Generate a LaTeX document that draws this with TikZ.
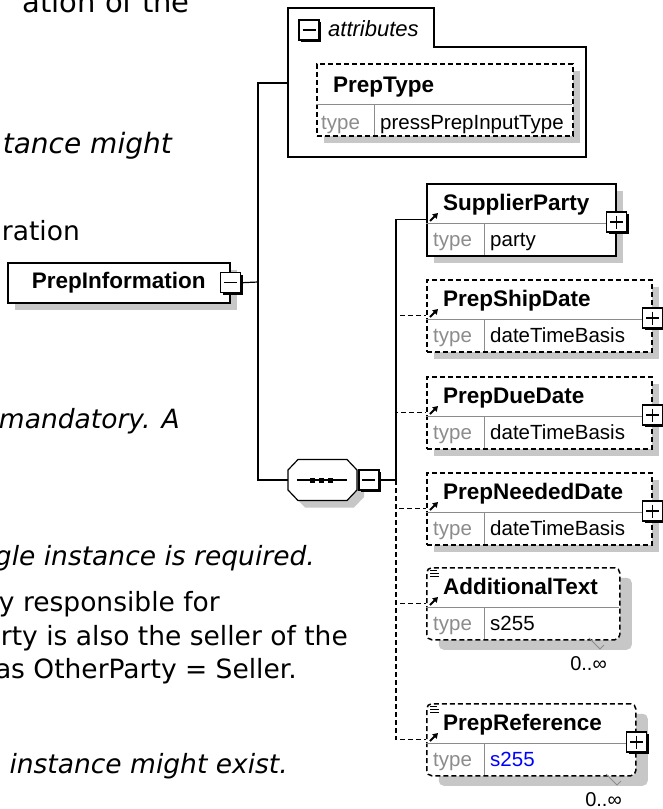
\documentclass[tikz,border=0pt]{standalone}
\usepackage{fontspec}
\setmainfont{DejaVu Sans}
\newfontfamily\diagfont{Liberation Sans}
\usepackage{tikz}
\usetikzlibrary{arrows.meta,shadows}
\tikzset{
  wire/.style={line width=1.2pt},
  optwire/.style={wire, dash pattern=on 5pt off 3pt},
  boxshade/.style={drop shadow={shadow xshift=7pt, shadow yshift=-7pt, fill=black!22, opacity=1}},
  elembox/.style={draw, fill=white, line width=1.5pt, inner sep=0pt, anchor=north west, minimum height=72pt},
  reqelem/.style={elembox, boxshade},
  optelem/.style={elembox, boxshade, dash pattern=on 5pt off 3pt},
  multielem/.style={elembox, dash pattern=on 5pt off 3pt, rounded corners=5pt,
    drop shadow={shadow xshift=12pt, shadow yshift=-10pt, fill=black!22, opacity=1}},
  pmbox/.style={draw, fill=white, line width=1.3pt, minimum size=20pt, inner sep=0pt,
    drop shadow={shadow xshift=2.4pt, shadow yshift=-2.4pt, fill=black, opacity=1}},
  minusbox/.style={pmbox, path picture={\draw[line width=1.2pt]
    ([xshift=3.5pt]path picture bounding box.west) -- ([xshift=-3.5pt]path picture bounding box.east);}},
  plusbox/.style={pmbox, path picture={\draw[line width=1.2pt]
    ([xshift=3.5pt]path picture bounding box.west) -- ([xshift=-3.5pt]path picture bounding box.east)
    ([yshift=-3.5pt]path picture bounding box.north) -- ([yshift=3.5pt]path picture bounding box.south);}},
  divline/.style={draw=black!45, line width=0.8pt},
  eltitle/.style={anchor=base west, inner sep=0pt, font=\diagfont\bfseries\fontsize{22.5}{24}\selectfont},
  typekey/.style={anchor=base west, inner sep=0pt, text=black!45, font=\diagfont\fontsize{20.5}{22}\selectfont},
  typeval/.style={typekey, text=black},
  multlbl/.style={anchor=base east, inner sep=0pt, font=\diagfont\fontsize{20}{22}\selectfont},
  lefttxt/.style={anchor=base east, inner sep=0pt, font=\fontsize{26.5}{30}\selectfont},
  leftit/.style={lefttxt, font=\itshape\fontsize{26.5}{30}\selectfont},
}

\begin{document}
\begin{tikzpicture}[x=1pt,y=-1pt]
\useasboundingbox[fill=white] (0,0) rectangle (663,809);
\node[lefttxt, font=\fontsize{29}{32}\selectfont] (t1) at (190,12) {ation of the};
\node[leftit, font=\itshape\fontsize{28}{32}\selectfont] (t2) at (172,153) {tance might};
\node[lefttxt] (t3) at (80,240) {ration};
\node[leftit] (t4) at (180,428) {mandatory. A};
\node[leftit] (t5) at (315,565) {gle instance is required.};
\node[lefttxt] (t6) at (220,611) {ty responsible for};
\node[lefttxt] (t7) at (348,645) {rty is also the seller of the};
\node[lefttxt] (t8) at (297,678) {as OtherParty = Seller.};
\node[leftit] (t9) at (288,773) {e instance might exist.};

\draw[wire] (288,8) -- (434,8) -- (434,47) -- (586,47) -- (586,157) -- (288,157) -- cycle;
\node[minusbox] (attr-x) at (309,30) {};
\node[anchor=base west, inner sep=0pt, font=\diagfont\itshape\fontsize{22}{24}\selectfont] (attr-lbl) at (328,36) {attributes};
\node[optelem, minimum width=256pt] (ptype) at (316,63) {};
\draw[divline] (316,104) -- (572,104) (374,104) -- (374,135);
\node[eltitle] (ptype-t) at (333,92) {PrepType};
\node[typekey] (ptype-k) at (321,129) {type};
\node[typeval] (ptype-v) at (380,129) {pressPrepInputType};

\node[reqelem, minimum width=222pt, minimum height=40pt, font=\diagfont\bfseries\fontsize{22.5}{24}\selectfont] (pi) at (7,262) {PrepInformation};
\node[minusbox] (pi-x) at (pi.east) {};

\node[minimum width=69pt, minimum height=41pt, inner sep=0pt] (seq) at (322.5,480) {};
\fill[black!22] (295,477) -- (305,466.5) -- (354,466.5) -- (364,477) -- (364,497) -- (354,507.5) -- (305,507.5) -- (295,497) -- cycle;
\draw[wire, fill=white] (288,470) -- (298,459.5) -- (347,459.5) -- (357,470) -- (357,490) -- (347,500.5) -- (298,500.5) -- (288,490) -- cycle;
\draw[line width=1.1pt] ([xshift=9pt]seq.west) -- ([xshift=-10pt]seq.east);
\foreach \dx in {-10,-1,8}
  \fill ([xshift=\dx pt]seq.center) ++(-2.5,-2.5) rectangle ++(5,5);
\node[minusbox, anchor=west] (seq-x) at ([xshift=1pt]seq.east) {};

\foreach \ename/\etitle/\etype/\etop/\ewidth/\estyle in {
  sp/SupplierParty/party/183/189/reqelem,
  ship/PrepShipDate/dateTimeBasis/279/225/optelem,
  due/PrepDueDate/dateTimeBasis/376/225/optelem,
  need/PrepNeededDate/dateTimeBasis/472/225/optelem,
  addtext/AdditionalText/s255/567/193/multielem,
  ref/PrepReference/{\textcolor{blue}{s255}}/703/209/multielem}{
  \node[\estyle, minimum width=\ewidth pt] (\ename) at (426,\etop) {};
  \draw[divline] (426,\etop+40) -- (426+\ewidth,\etop+40) (484,\etop+40) -- (484,\etop+72);
  \node[eltitle] (\ename-t) at (443,\etop+27) {\etitle};
  \node[typekey] (\ename-k) at (433,\etop+63) {type};
  \node[typeval] (\ename-v) at (490,\etop+63) {\etype};
  \draw[-{Triangle[length=5pt,width=6pt]}, line width=2pt] (430,\etop+38) -- (438,\etop+30);
}
\foreach \ename in {sp,ship,due,need,ref}
  \node[plusbox] (\ename-x) at ([yshift=-39pt]\ename.north east) {};
\foreach \ename in {addtext,ref}
  \draw[line width=0.9pt] ([xshift=4pt,yshift=-3pt]\ename.north west) -- ++(7,0)
    ([xshift=4pt,yshift=-6pt]\ename.north west) -- ++(9,0)
    ([xshift=4pt,yshift=-9pt]\ename.north west) -- ++(9,0);
\node[multlbl] (addtext-n) at (607,670) {0..∞};
\node[multlbl] (ref-n) at (622,806) {0..∞};
\draw[black!45, line width=0.9pt] (589,638) -- (600,649) -- (604,645);
\draw[black!45, line width=0.9pt] (606,774) -- (617,785) -- (621,781);

\coordinate (attrs) at (288,83);
\coordinate (fork) at (258,282);
\coordinate (spine) at (396,480);
\draw[wire] (pi-x.east) -- (fork);
\draw[wire] (attrs) -| (fork) |- (seq.west);
\draw[wire] (seq-x.east) -- (spine) |- (sp.west);
\foreach \ename in {ship,due,need,addtext,ref}
  \draw[optwire] (spine) |- (\ename.west);
\end{tikzpicture}
\end{document}
